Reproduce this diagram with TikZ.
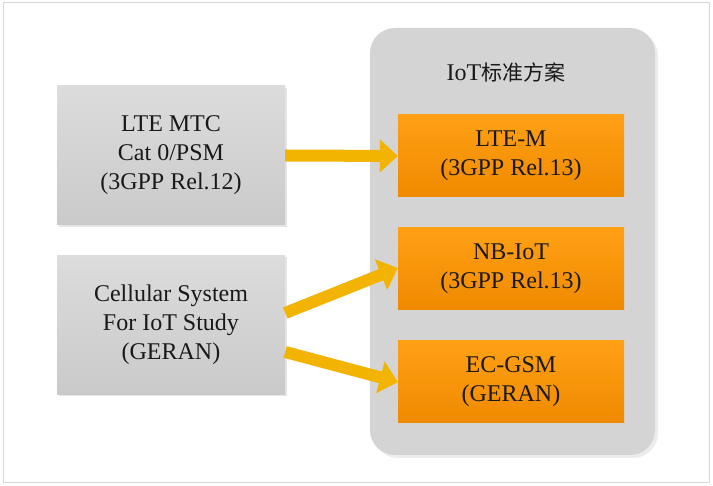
\documentclass[tikz,border=0pt]{standalone}
\usepackage{fontspec}
\setmainfont{Liberation Serif}
\newfontfamily\cjk{Noto Sans CJK SC}
\usetikzlibrary{arrows.meta,shadows,calc}
\definecolor{frameC}{RGB}{215,215,215}
\definecolor{grayTop}{RGB}{220,220,220}
\definecolor{grayBot}{RGB}{202,202,202}
\definecolor{contC}{RGB}{212,212,212}
\definecolor{orTop}{RGB}{255,160,20}
\definecolor{orBot}{RGB}{240,138,0}
\definecolor{arrC}{RGB}{242,180,0}
\definecolor{txtC}{RGB}{25,25,25}
\tikzset{
  srcbox/.style={minimum width=228pt, minimum height=139pt, inner sep=0pt,
    top color=grayTop, bottom color=grayBot, align=center, text=txtC,
    font=\fontsize{24}{29}\selectfont,
    drop shadow={opacity=0.2, shadow xshift=2pt, shadow yshift=-2pt}},
  stdbox/.style={minimum width=226pt, minimum height=82pt, inner sep=0pt,
    top color=orTop, bottom color=orBot, align=center, text=txtC,
    font=\fontsize{24}{29}\selectfont},
  bigarrow/.style={draw=arrC, line width=12pt,
    -{Triangle[width=32pt,length=18pt]}, shorten >=0pt}
}
\begin{document}
\begin{tikzpicture}[x=1pt,y=1pt]
\useasboundingbox (0,0) rectangle (713,486);
\fill[white] (0,0) rectangle (713,486);
\draw[frameC, line width=1pt] (3,3) rectangle (709,483);
% container
\node[fill=contC, rounded corners=25pt, minimum width=285pt, minimum height=427pt,
  inner sep=0pt, drop shadow={opacity=0.15, shadow xshift=3pt, shadow yshift=-3pt}]
  (cont) at (512.5,244.5) {};
\node[text=txtC, font=\fontsize{24}{29}\selectfont, inner sep=0pt] (title) at (506,414) {IoT{\cjk\fontsize{21}{29}\selectfont 标准方案}};
% left boxes
\node[srcbox] (mtc) at (171,330.5) {LTE MTC\\Cat 0/PSM\\(3GPP Rel.12)};
\node[srcbox] (ciot) at (171,161) {Cellular System\\For IoT Study\\(GERAN)};
% right boxes
\node[stdbox] (ltem) at (511,330) {LTE-M\\(3GPP Rel.13)};
\node[stdbox] (nbiot) at (511,217) {NB-IoT\\(3GPP Rel.13)};
\node[stdbox] (ecgsm) at (511,104) {EC-GSM\\(GERAN)};
% arrows
\draw[bigarrow] (mtc.east) -- (ltem.west);
\draw[bigarrow] ($(ciot.east)+(0,12)$) -- ($(nbiot.west)+(0,1)$);
\draw[bigarrow] ($(ciot.east)+(0,-27)$) -- (ecgsm.west);
\end{tikzpicture}
\end{document}
